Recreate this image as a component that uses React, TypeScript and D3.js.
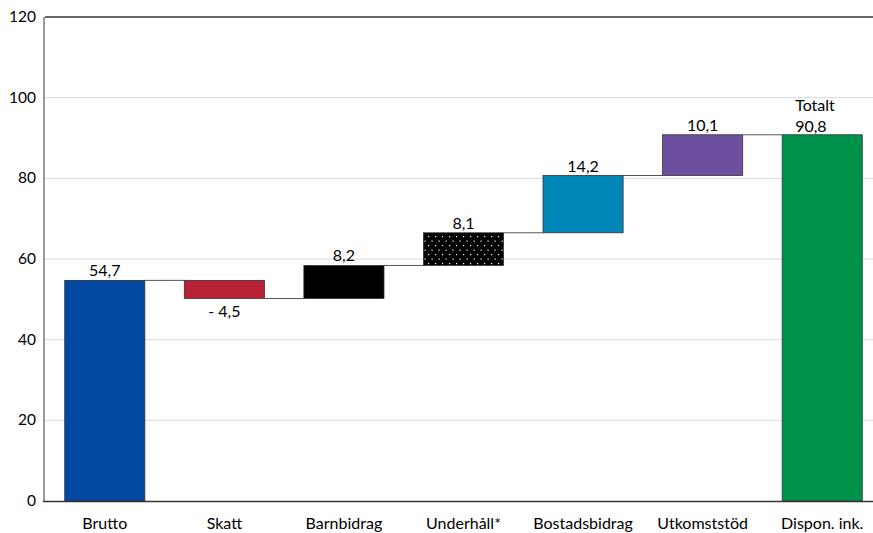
import React from "react";
import * as d3 from "d3";

const categories = ["Brutto", "Skatt", "Barnbidrag", "Underhåll*", "Bostadsbidrag", "Utkomststöd", "Dispon. ink."];
const changes = [54.7, -4.5, 8.2, 8.1, 14.2, 10.1, 90.8];
const isTotal = [false, false, false, false, false, false, true];
const labels = ["54,7", "- 4,5", "8,2", "8,1", "14,2", "10,1", "90,8"];
const colors = ["#0349A1", "#B82237", "#000000", "url(#dots)", "#0087B8", "#6C4F9F", "#00924A"];
const yTicks = [0, 20, 40, 60, 80, 100, 120];

const W = 873;
const H = 533;
const m = { left: 45, top: 17, bottom: 501, right: 882 };
const FONT = "Lato, 'Open Sans', sans-serif";

export default function App() {
  const x = d3.scaleBand<string>().domain(categories).range([m.left, m.right]).paddingInner(0.33).paddingOuter(0.165);
  const y = d3.scaleLinear().domain([0, 120]).range([m.bottom, m.top]);

  let run = 0;
  const bars = changes.map((v, i) => {
    let start: number, end: number;
    if (i === 0 || isTotal[i]) {
      start = 0;
      end = v;
    } else {
      start = run;
      end = run + v;
    }
    run = end;
    return { start, end, cat: categories[i], v };
  });

  const bw = x.bandwidth();

  return (
    <svg width={W} height={H} style={{ position: "absolute", left: 0, top: 0, background: "#fff" }}>
      <defs>
        <pattern id="dots" width="7" height="9" patternUnits="userSpaceOnUse">
          <rect width="7" height="9" fill="#000" />
          <rect x="1" y="2" width="1.2" height="1.2" fill="#fff" />
          <rect x="4.5" y="6.5" width="1.2" height="1.2" fill="#fff" />
        </pattern>
      </defs>
      {yTicks.filter((t) => t > 0 && t < 120).map((t) => (
        <line key={t} x1={m.left} x2={W} y1={y(t)} y2={y(t)} stroke="#D9D9D9" strokeWidth={1} />
      ))}
      <line x1={m.left} x2={W} y1={y(120)} y2={y(120)} stroke="#333" strokeWidth={1.5} />
      {bars.slice(0, -1).map((b, i) => {
        const next = bars[i + 1];
        const lvl = b.end;
        return (
          <line
            key={"c" + i}
            x1={(x(b.cat) as number) + bw}
            x2={x(next.cat) as number}
            y1={y(lvl)}
            y2={y(lvl)}
            stroke="#555"
            strokeWidth={1}
          />
        );
      })}
      {bars.map((b, i) => (
        <rect
          key={b.cat}
          x={x(b.cat) as number}
          y={y(Math.max(b.start, b.end))}
          width={bw}
          height={Math.abs(y(b.start) - y(b.end))}
          fill={colors[i]}
          stroke="#333"
          strokeWidth={0.8}
        />
      ))}
      {bars.map((b, i) => {
        const cx = (x(b.cat) as number) + bw / 2;
        if (isTotal[i]) {
          const lx = (x(b.cat) as number) + 13;
          return (
            <text key={"l" + i} x={lx} fontFamily={FONT} fontSize={16} fill="#000">
              <tspan x={lx} y={y(b.end) - 24}>Totalt</tspan>
              <tspan x={lx} y={y(b.end) - 3}>{labels[i]}</tspan>
            </text>
          );
        }
        if (b.v < 0) {
          return (
            <text key={"l" + i} x={cx} y={y(b.end) + 18} textAnchor="middle" fontFamily={FONT} fontSize={16} fill="#000">
              {labels[i]}
            </text>
          );
        }
        return (
          <text key={"l" + i} x={cx} y={y(b.end) - 4} textAnchor="middle" fontFamily={FONT} fontSize={16} fill="#000">
            {labels[i]}
          </text>
        );
      })}
      <line x1={m.left - 1} x2={m.left - 1} y1={y(120)} y2={y(0)} stroke="#9A9A9A" strokeWidth={2} />
      {yTicks.map((t) => (
        <text key={"t" + t} x={36} y={y(t) + 5} textAnchor="end" fontFamily={FONT} fontSize={15.5} fill="#000">
          {t}
        </text>
      ))}
      <line x1={m.left - 2} x2={W} y1={y(0) + 0.5} y2={y(0) + 0.5} stroke="#333" strokeWidth={1.5} />
      {categories.map((c) => (
        <text key={"x" + c} x={(x(c) as number) + bw / 2} y={529} textAnchor="middle" fontFamily={FONT} fontSize={16} fill="#000">
          {c}
        </text>
      ))}
    </svg>
  );
}
